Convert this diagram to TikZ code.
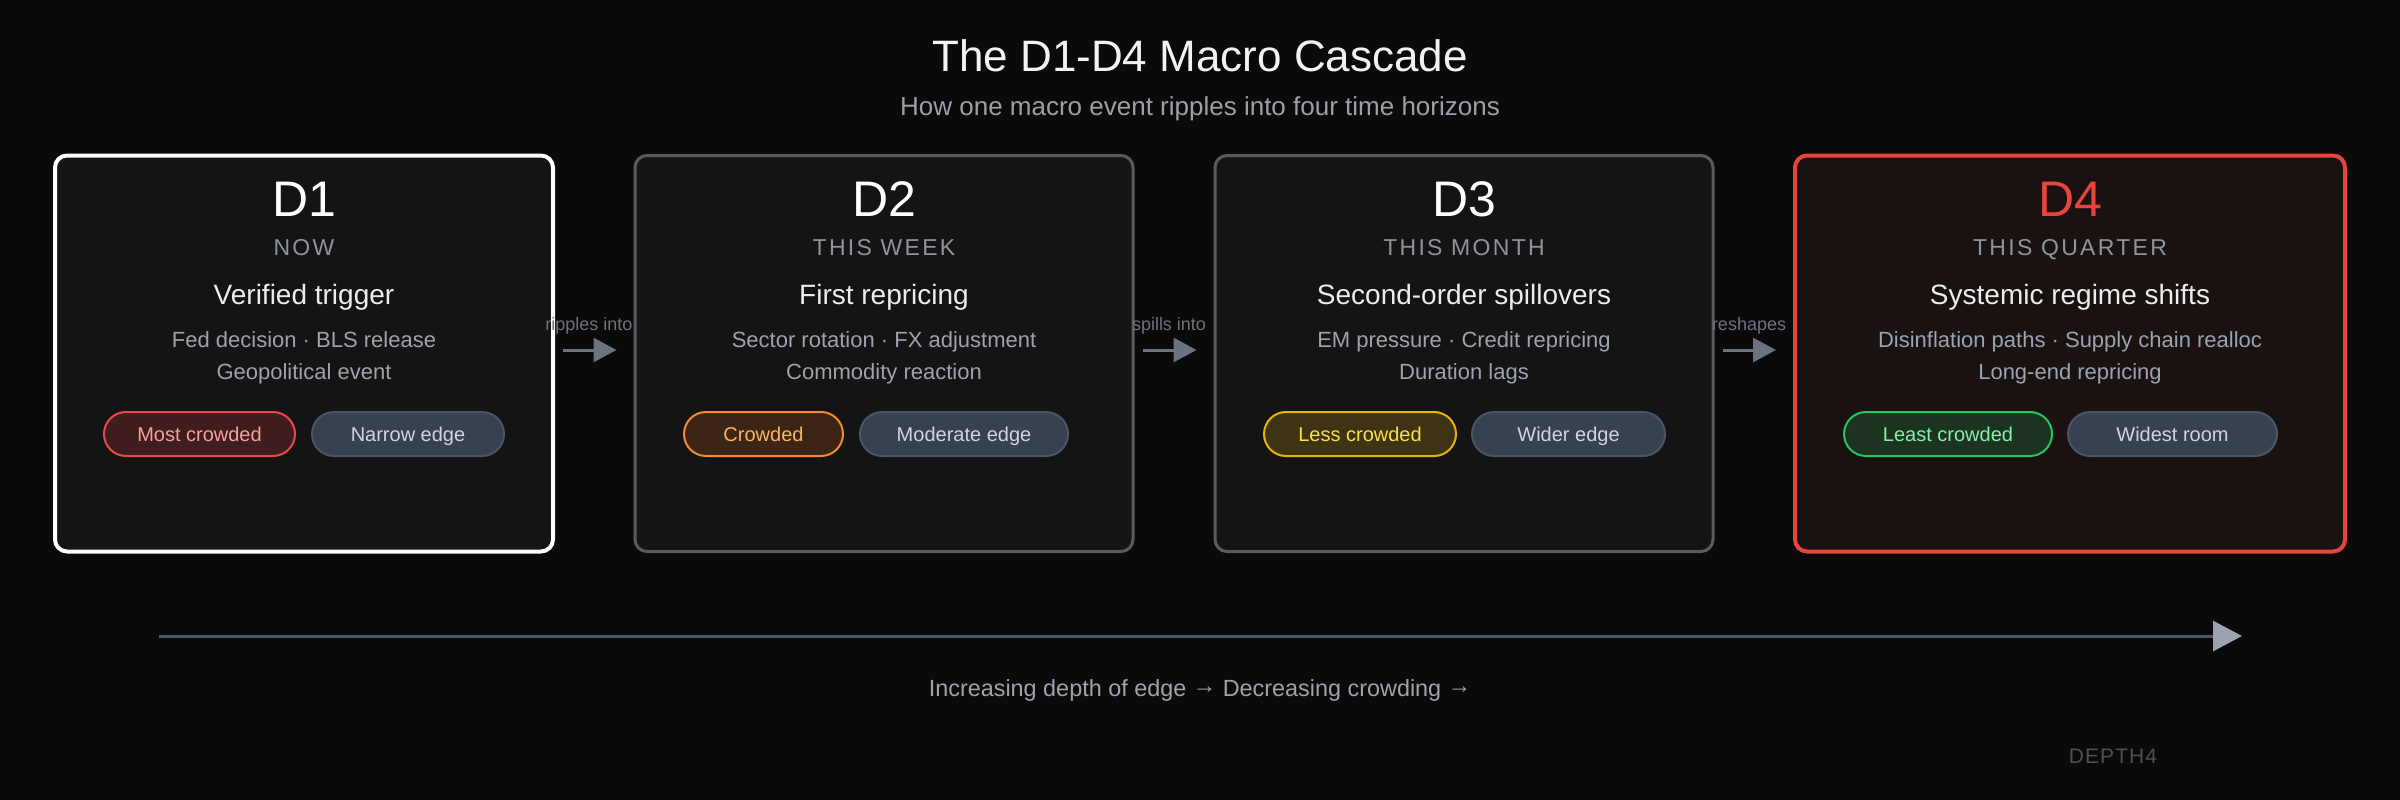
\documentclass[tikz,border=0pt]{standalone}
\usepackage{fontspec}
\setmainfont{Liberation Sans}
\newfontfamily\spacedfont[LetterSpace=10]{Liberation Sans}
\newfontfamily\markfont[LetterSpace=5]{Liberation Sans}
\usetikzlibrary{arrows.meta}
\newcommand\setfs[1]{\fontsize{#1}{#1}\selectfont}
\newcommand\rarr{\raisebox{2.5pt}{→}}
\definecolor{bg}{HTML}{0A0A0A}
\definecolor{cardfill}{HTML}{141414}
\definecolor{cardedge}{HTML}{5A5A60}
\definecolor{redc}{HTML}{E5453C}
\definecolor{dfourfill}{HTML}{1A1111}
\definecolor{titlec}{HTML}{F2F2F2}
\definecolor{subc}{HTML}{9AA0A8}
\definecolor{periodc}{HTML}{8E949E}
\definecolor{headc}{HTML}{ECECEC}
\definecolor{detailc}{HTML}{9CA3AF}
\definecolor{arrowc}{HTML}{6B7280}
\definecolor{axisc}{HTML}{4B5563}
\definecolor{axishead}{HTML}{9CA3AF}
\definecolor{markc}{HTML}{505050}
\definecolor{rpfill}{HTML}{3F1D1F}\definecolor{rpdraw}{HTML}{E5484D}\definecolor{rptext}{HTML}{F4A0A0}
\definecolor{opfill}{HTML}{3D2516}\definecolor{opdraw}{HTML}{F08C2E}\definecolor{optext}{HTML}{FBB360}
\definecolor{ypfill}{HTML}{3F3316}\definecolor{ypdraw}{HTML}{EAB308}\definecolor{yptext}{HTML}{FDE047}
\definecolor{gpfill}{HTML}{1C3322}\definecolor{gpdraw}{HTML}{22C55E}\definecolor{gptext}{HTML}{86EFAC}
\definecolor{npfill}{HTML}{374151}\definecolor{npdraw}{HTML}{4B5563}\definecolor{nptext}{HTML}{D1D5DB}
\begin{document}
\begin{tikzpicture}[x=1pt,y=-1pt,
  txt/.style={inner sep=0pt, anchor=base},
  card/.style={rounded corners=12pt, line width=3pt, draw=cardedge, fill=cardfill, minimum height=396pt, minimum width=498pt, inner sep=0pt},
  pill/.style={rounded corners=22pt, line width=2pt, minimum height=44pt, inner sep=0pt, text height=15.4pt, text depth=0pt, font=\setfs{20}},
  redpill/.style={pill, fill=rpfill, draw=rpdraw, text=rptext},
  orangepill/.style={pill, fill=opfill, draw=opdraw, text=optext},
  yellowpill/.style={pill, fill=ypfill, draw=ypdraw, text=yptext},
  greenpill/.style={pill, fill=gpfill, draw=gpdraw, text=gptext},
  neutralpill/.style={pill, fill=npfill, draw=npdraw, text=nptext},
  dlabel/.style={txt, font=\setfs{50}, text=white},
  period/.style={txt, font=\spacedfont\setfs{23}, text=periodc},
  headline/.style={txt, font=\setfs{28}, text=headc},
  detail/.style={txt, font=\setfs{22}, text=detailc},
  flowarrow/.style={line width=3pt, draw=arrowc, -{Triangle[length=23pt,width=24pt]}},
  flowlabel/.style={txt, font=\setfs{18}, text=arrowc},
]
\fill[bg] (0,0) rectangle (2400,800);
\useasboundingbox (0,0) rectangle (2400,800);

% title
\node[txt, font=\setfs{44}, text=titlec] (title) at (1200,71) {The D1-D4 Macro Cascade};
\node[txt, font=\setfs{26}, text=subc] (subtitle) at (1200,115.7) {How one macro event ripples into four time horizons};

% cards
\node[card, draw=white, line width=4pt] (box1) at (304,353.5) {};
\node[card] (box2) at (884,353.5) {};
\node[card] (box3) at (1464,353.5) {};
\node[card, draw=redc, fill=dfourfill, line width=4pt, minimum width=550pt] (box4) at (2070,353.5) {};

% card 1
\node[dlabel] (d1) at (304,216) {D1};
\node[period] (p1) at (304,255.7) {NOW};
\node[headline] (h1) at (304,304) {Verified trigger};
\node[detail] (a1) at (304,347.7) {Fed decision · BLS release};
\node[detail] (b1) at (304,379.3) {Geopolitical event};
\node[redpill, minimum width=191pt] (c1) at (199.5,434) {Most crowded};
\node[neutralpill, minimum width=192pt] (e1) at (408,434) {Narrow edge};

% card 2
\node[dlabel] (d2) at (884,216) {D2};
\node[period] (p2) at (884,255.7) {THIS WEEK};
\node[headline] (h2) at (884,304) {First repricing};
\node[detail] (a2) at (884,347.7) {Sector rotation · FX adjustment};
\node[detail] (b2) at (884,379.3) {Commodity reaction};
\node[orangepill, minimum width=159pt] (c2) at (763.5,434) {Crowded};
\node[neutralpill, minimum width=208pt] (e2) at (964,434) {Moderate edge};

% card 3
\node[dlabel] (d3) at (1464,216) {D3};
\node[period] (p3) at (1464,255.7) {THIS MONTH};
\node[headline] (h3) at (1464,304) {Second-order spillovers};
\node[detail] (a3) at (1464,347.7) {EM pressure · Credit repricing};
\node[detail] (b3) at (1464,379.3) {Duration lags};
\node[yellowpill, minimum width=192pt] (c3) at (1360,434) {Less crowded};
\node[neutralpill, minimum width=193pt] (e3) at (1568.5,434) {Wider edge};

% card 4
\node[dlabel, text=redc] (d4) at (2070,216) {D4};
\node[period] (p4) at (2070,255.7) {THIS QUARTER};
\node[headline] (h4) at (2070,304) {Systemic regime shifts};
\node[detail] (a4) at (2070,347.7) {Disinflation paths · Supply chain realloc};
\node[detail] (b4) at (2070,379.3) {Long-end repricing};
\node[greenpill, minimum width=208pt] (c4) at (1948,434) {Least crowded};
\node[neutralpill, minimum width=209pt] (e4) at (2172.5,434) {Widest room};

% flow arrows
\draw[flowarrow] ([xshift=8pt,yshift=3.5pt]box1.east) -- ([xshift=-17pt,yshift=3.5pt]box2.west);
\draw[flowarrow] ([xshift=8pt,yshift=3.5pt]box2.east) -- ([xshift=-17pt,yshift=3.5pt]box3.west);
\draw[flowarrow] ([xshift=8pt,yshift=3.5pt]box3.east) -- ([xshift=-17pt,yshift=3.5pt]box4.west);
\node[flowlabel] (l1) at (589,330) {ripples into};
\node[flowlabel] (l2) at (1169,330) {spills into};
\node[flowlabel] (l3) at (1749,330) {reshapes};

% axis
\coordinate (axs) at (159,636);
\coordinate (axe) at (2242,636);
\draw[line width=3pt, draw=axisc, -{Triangle[length=29pt,width=30pt,color=axishead]}] (axs) -- (axe);
\node[txt, font=\setfs{23.4}, text=detailc] (caption) at (1200,696) {Increasing depth of edge \rarr{} Decreasing crowding \rarr};

\node[txt, font=\markfont\setfs{21}, text=markc] (mark) at (2113,763) {DEPTH4};
\end{tikzpicture}
\end{document}
